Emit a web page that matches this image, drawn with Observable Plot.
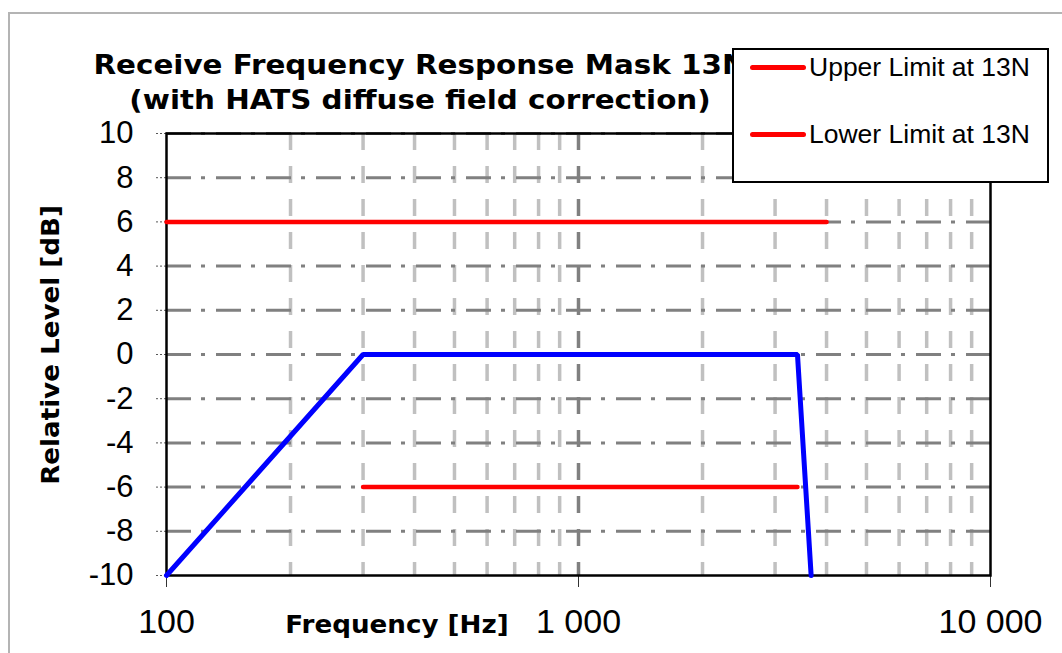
<!DOCTYPE html>
<html>
<head>
<meta charset="utf-8">
<script src="https://cdn.jsdelivr.net/npm/d3@7"></script>
<script src="https://cdn.jsdelivr.net/npm/@observablehq/plot@0.6"></script>
<style>
  html, body { margin: 0; padding: 0; background: #fff; }
  #wrap { position: relative; width: 1062px; height: 653px; overflow: hidden; background: #fff; }
  #border { position: absolute; left: 8px; top: 12px; width: 1100px; height: 700px; border-left: 2px solid #b4b4b4; border-top: 2px solid #b4b4b4; box-sizing: border-box; }
  #chart { position: absolute; left: 0; top: 0; }
  .title { position: absolute; left: 0; width: 840px; text-align: center; font-family: "DejaVu Sans", Verdana, sans-serif; font-weight: bold; font-size: 26px; line-height: 30px; color: #000; white-space: nowrap; transform: scaleX(1.13); transform-origin: 420px 0; }
  #legend { position: absolute; left: 732px; top: 48px; width: 317px; height: 135px; box-sizing: border-box; border: 2px solid #000; background: #fff; font-family: "Liberation Sans", Arial, sans-serif; font-size: 26.5px; color: #000; }
  .item { position: absolute; left: 16px; height: 30px; display: flex; align-items: center; white-space: nowrap; }
  .swatch { width: 56px; height: 0; border-top: 5px solid #ff0000; border-radius: 3px; margin-right: 3px; }
  .ylab { position: absolute; left: 51px; top: 345px; transform: translate(-50%, -50%) rotate(-90deg) scaleX(1.09); font-family: "DejaVu Sans", Verdana, sans-serif; font-weight: bold; font-size: 24px; white-space: nowrap; }
  .xlab { position: absolute; left: 397px; top: 632px; transform: translate(-50%, -75%) scaleX(1.09); font-family: "DejaVu Sans", Verdana, sans-serif; font-weight: bold; font-size: 24px; line-height: 30px; white-space: nowrap; }
</style>
</head>
<body>
<div id="wrap">
  <div id="border"></div>
  <div id="chart"></div>
  <div class="title" style="top:50px">Receive Frequency Response Mask 13N</div>
  <div class="title" style="top:85px">(with HATS diffuse field correction)</div>
  <div class="ylab">Relative Level [dB]</div>
  <div class="xlab">Frequency [Hz]</div>
  <div id="legend"></div>
</div>
<script>
// ---- data ----
const seriesNames = ["Upper Limit at 13N", "Lower Limit at 13N"];
const upperFreq = [100, 4000];
const upperLevel = [6, 6];
const lowerFreq = [300, 3400];
const lowerLevel = [-6, -6];
const maskFreq = [100, 300, 3400, 3670];
const maskLevel = [-10, 0, 0, -10];
const yTicks = [-10, -8, -6, -4, -2, 0, 2, 4, 6, 8, 10];
const xTicks = [100, 1000, 10000];
const xTickLabels = ["100", "1 000", "10 000"];
const minorFreq = [200, 300, 400, 500, 600, 700, 800, 900, 2000, 3000, 4000, 5000, 6000, 7000, 8000, 9000];
const majorFreq = [1000];
const hGrid = [-8, -6, -4, -2, 0, 2, 4, 6, 8, 10];

const upper = upperFreq.map((f, i) => ({f, v: upperLevel[i]}));
const lower = lowerFreq.map((f, i) => ({f, v: lowerLevel[i]}));
const mask = maskFreq.map((f, i) => ({f, v: maskLevel[i]}));
const xLabelOf = new Map(xTicks.map((t, i) => [t, xTickLabels[i]]));

const plot = Plot.plot({
  width: 1062,
  height: 653,
  marginLeft: 166,
  marginRight: 72,
  marginTop: 133,
  marginBottom: 78,
  style: {fontFamily: "'Liberation Sans', Arial, sans-serif", background: "transparent", color: "#000"},
  x: {type: "log", domain: [100, 10000], label: null},
  y: {domain: [-10, 10], label: null},
  marks: [
    // vertical grid
    Plot.ruleX(minorFreq, {x: d => d, y1: 10, y2: -10, stroke: "#c0c0c0", strokeWidth: 3.5, strokeDasharray: "17,16"}),
    Plot.ruleX(majorFreq, {x: d => d, y1: 10, y2: -10, stroke: "#808080", strokeWidth: 3.5, strokeDasharray: "17,16"}),
    // horizontal grid
    Plot.ruleY(hGrid, {y: d => d, x1: 100, x2: 10000, stroke: "#808080", strokeWidth: 3, strokeDasharray: "25,10,4,11"}),
    // y tick marks (small dotted)
    Plot.axisY(yTicks, {tickSize: 11, text: null, label: null, stroke: "#555", strokeWidth: 1, strokeDasharray: "2,2"}),
    Plot.axisY(yTicks, {tickSize: 0, tickPadding: 33, fontSize: 31, label: null, tickFormat: d => String(d)}),
    // x ticks
    Plot.axisX(xTicks, {tickSize: 12, text: null, label: null, stroke: "#333", strokeWidth: 1}),
    Plot.axisX(xTicks, {tickSize: 0, tickPadding: 33, fontSize: 34, label: null, tickFormat: d => xLabelOf.get(d)}),
    // frame
    Plot.frame({stroke: "#000", strokeWidth: 2.5}),
    // data
    Plot.line(upper, {x: "f", y: "v", stroke: "#ff0000", strokeWidth: 4.5}),
    Plot.line(lower, {x: "f", y: "v", stroke: "#ff0000", strokeWidth: 4.5}),
    Plot.line(mask, {x: "f", y: "v", stroke: "#0000ff", strokeWidth: 5, strokeLinejoin: "miter"})
  ]
});
document.getElementById("chart").appendChild(plot);

const legend = document.getElementById("legend");
const tops = [2, 69];
seriesNames.forEach((name, i) => {
  const it = document.createElement("div");
  it.className = "item";
  it.style.top = tops[i] + "px";
  const sw = document.createElement("span");
  sw.className = "swatch";
  const tx = document.createElement("span");
  tx.textContent = name;
  it.appendChild(sw);
  it.appendChild(tx);
  legend.appendChild(it);
});
</script>
</body>
</html>
